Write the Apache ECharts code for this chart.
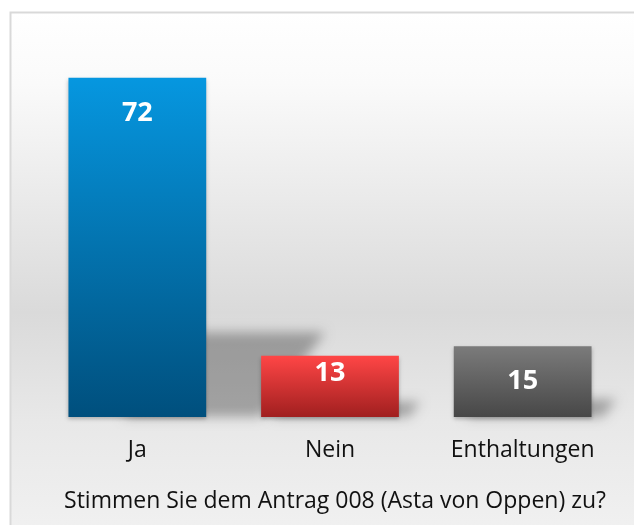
<!DOCTYPE html>
<html>
<head>
<meta charset="utf-8">
<script src="https://cdn.jsdelivr.net/npm/echarts@6/dist/echarts.min.js"></script>
<style>
  html, body { margin: 0; padding: 0; overflow: hidden; background: #fff; }
  #main { width: 670px; height: 550px; }
</style>
</head>
<body>
<div id="main"></div>
<script>
// Daten
var categories = ['Ja', 'Nein', 'Enthaltungen'];
var votes = [72, 13, 15];
var titleText = 'Stimmen Sie dem Antrag 008 (Asta von Oppen) zu?';

// Farben je Balken (oben -> unten)
var barColors = [
    ['#0697e0', '#004f7d'],
    ['#ff4646', '#a01f1f'],
    ['#7b7b7b', '#474747']
];
var labelPos = [
    { position: 'insideTop', distance: 22 },
    { position: 'insideTop', distance: 4 },
    { position: 'inside', distance: 0 }
];

var myChart = echarts.init(document.getElementById('main'));

var barData = votes.map(function (v, i) {
    return {
        value: v,
        itemStyle: {
            color: new echarts.graphic.LinearGradient(0, 0, 0, 1, [
                { offset: 0, color: barColors[i][0] },
                { offset: 1, color: barColors[i][1] }
            ])
        },
        label: labelPos[i]
    };
});

// perspektivischer Schatten hinter den Balken
// (Form wird ausserhalb gezeichnet, nur der weiche Schatten ist sichtbar)
var OFF = 2000;
function renderShadow(params, api) {
    var base = api.coord([api.value(0), 0]);
    var top = api.coord([api.value(0), api.value(1)]);
    var w = api.size([1, 0])[0] * 0.715;
    var h = base[1] - top[1];
    var sh = h * 0.25;
    var dx = h * 0.16;
    var skew = h * 0.35;
    var x0 = base[0] - w / 2, x1 = base[0] + w / 2;
    var y0 = base[1] - OFF;
    return {
        type: 'polygon',
        shape: {
            points: [
                [x0 + dx, y0],
                [x1 + dx, y0],
                [x1 + skew, y0 - sh],
                [x0 + skew, y0 - sh]
            ]
        },
        style: {
            fill: '#000',
            shadowBlur: 12,
            shadowOffsetY: OFF,
            shadowColor: 'rgba(0,0,0,0.3)'
        }
    };
}

var option = {
    animation: false,
    graphic: [{
        type: 'rect',
        z: 0,
        shape: { x: 10.5, y: 12.5, width: 700, height: 600 },
        style: {
            stroke: '#d9d9d9',
            lineWidth: 2,
            fill: new echarts.graphic.LinearGradient(0, 0, 0, 1, [
                { offset: 0, color: '#ffffff' },
                { offset: 0.12, color: '#fafafa' },
                { offset: 0.5, color: '#dadada' },
                { offset: 0.68, color: '#e8e8e8' },
                { offset: 1, color: '#f7f7f7' }
            ])
        }
    }],
    title: {
        text: titleText,
        left: 'center',
        top: 485,
        textStyle: {
            fontFamily: 'Open Sans',
            fontSize: 23,
            fontWeight: 'normal',
            color: '#111'
        }
    },
    grid: { left: 41, right: 51, top: 40, bottom: 133 },
    xAxis: {
        type: 'category',
        data: categories,
        axisLine: { show: false },
        axisTick: { show: false },
        axisLabel: {
            margin: 22,
            fontFamily: 'Open Sans',
            fontSize: 23,
            color: '#111'
        }
    },
    yAxis: {
        type: 'value',
        min: 0,
        max: 80,
        show: false,
        splitLine: { show: false }
    },
    series: [{
        type: 'custom',
        z: 1,
        clip: false,
        renderItem: renderShadow,
        data: votes.map(function (v, i) { return [i, v]; }),
        silent: true
    }, {
        type: 'bar',
        z: 3,
        barWidth: '71.5%',
        data: barData,
        itemStyle: {
            shadowBlur: 4,
            shadowOffsetY: 2,
            shadowColor: 'rgba(0,0,0,0.25)'
        },
        label: {
            show: true,
            color: '#fff',
            fontFamily: 'Open Sans',
            fontWeight: 'bold',
            fontSize: 27
        }
    }]
};

myChart.setOption(option);
</script>
</body>
</html>
